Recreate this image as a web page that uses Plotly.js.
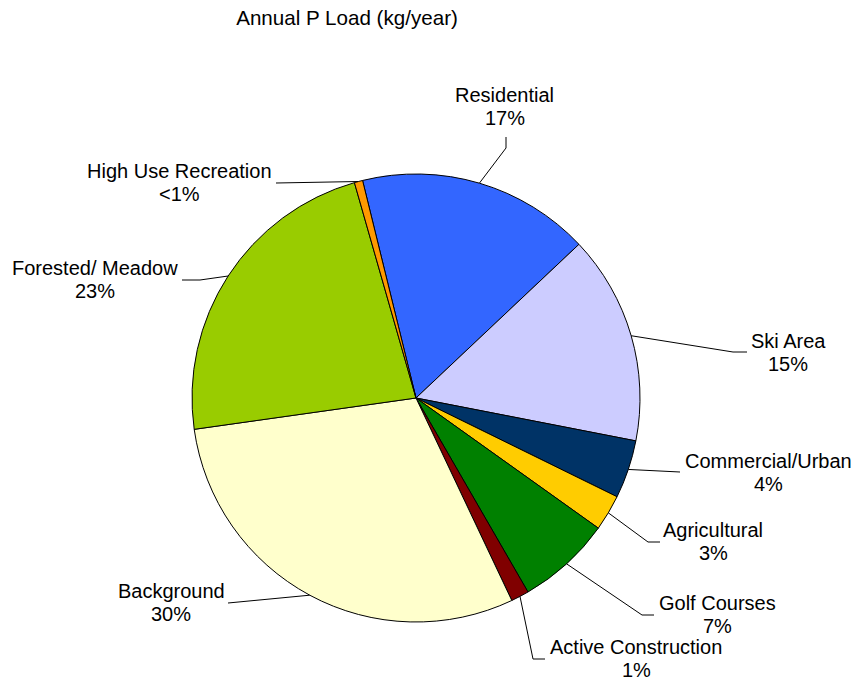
<!DOCTYPE html>
<html>
<head>
<meta charset="utf-8">
<script src="https://cdn.plot.ly/plotly-3.0.1.min.js"></script>
<style>html,body{margin:0;padding:0;background:#fff;}#chart{width:857px;height:686px;}</style>
</head>
<body>
<div id="chart"></div>
<script>
// ---- data ----
const labels = ['Residential', 'Ski Area', 'Commercial/Urban', 'Agricultural', 'Golf Courses',
                'Active Construction', 'Background', 'Forested/ Meadow', 'High Use Recreation'];
const values = [16.8, 15.1, 4.2, 2.6, 6.8, 1.3, 29.8, 22.8, 0.6];
const colors = ['#3366FF', '#CCCCFF', '#003366', '#FFCC00', '#008000',
                '#800000', '#FFFFCC', '#99CC00', '#FF9900'];
const titleText = 'Annual P Load (kg/year)';

// ---- layout config (pixel positions) ----
const W = 857, H = 686;
const PIE = {cx: 416, cy: 398, r: 224};
const ROTATION = -13.8;
const labelPos = [[505, 95], [788, 341], [768, 461], [713, 530], [717, 603],
                  [636, 647], [171, 591], [95, 268], [179, 171]];
const leaderTail = [[[506, 148], [506, 137]], [[733, 352], [747, 352]], [[680, 472]],
                    [[648, 542], [660, 542]], [[642, 615], [654, 615]], [[533, 659], [545, 659]],
                    [[228, 603]], [[200, 280], [182, 280]], [[276, 183]]];
const LINE_GAP = 23;
const FONT = 'Liberation Sans, Arial, Helvetica, sans-serif';

const px = x => x / W;
const py = y => 1 - y / H;

const total = values.reduce((a, b) => a + b, 0);
const pctText = values.map(v => {
  const p = v / total * 100;
  return p < 1 ? '<1%' : Math.round(p) + '%';
});

const annotations = [];
const shapes = [];
let cum = 0;
values.forEach((v, i) => {
  const mid = (ROTATION + (cum + v / 2) / total * 360) * Math.PI / 180;
  cum += v;
  const sx = PIE.cx + PIE.r * Math.sin(mid);
  const sy = PIE.cy - PIE.r * Math.cos(mid);
  let path = 'M' + px(sx) + ',' + py(sy);
  leaderTail[i].forEach(p => { path += ' L' + px(p[0]) + ',' + py(p[1]); });
  shapes.push({type: 'path', xref: 'paper', yref: 'paper', path: path,
               line: {color: '#000', width: 1}});
  const [lx, ly] = labelPos[i];
  annotations.push({xref: 'paper', yref: 'paper', x: px(lx), y: py(ly), xanchor: 'center',
                    yanchor: 'middle', showarrow: false, text: labels[i],
                    font: {family: FONT, size: 20, color: '#000'}});
  annotations.push({xref: 'paper', yref: 'paper', x: px(lx), y: py(ly + LINE_GAP), xanchor: 'center',
                    yanchor: 'middle', showarrow: false, text: pctText[i].replace('<', '&lt;'),
                    font: {family: FONT, size: 20, color: '#000'}});
});

const trace = {
  type: 'pie',
  labels: labels,
  values: values,
  sort: false,
  direction: 'clockwise',
  rotation: ROTATION,
  textinfo: 'none',
  hoverinfo: 'label+percent',
  marker: {colors: colors, line: {color: '#000', width: 1}},
  domain: {x: [px(PIE.cx - PIE.r), px(PIE.cx + PIE.r)], y: [py(PIE.cy + PIE.r), py(PIE.cy - PIE.r)]}
};

const layout = {
  width: W, height: H,
  margin: {l: 0, r: 0, t: 0, b: 0},
  paper_bgcolor: '#fff',
  showlegend: false,
  title: {text: titleText, x: px(347), xanchor: 'center', y: py(18), yanchor: 'middle',
          font: {family: FONT, size: 20.6, color: '#000'}},
  annotations: annotations,
  shapes: shapes
};

Plotly.newPlot('chart', [trace], layout, {displayModeBar: false, staticPlot: true});
</script>
</body>
</html>
